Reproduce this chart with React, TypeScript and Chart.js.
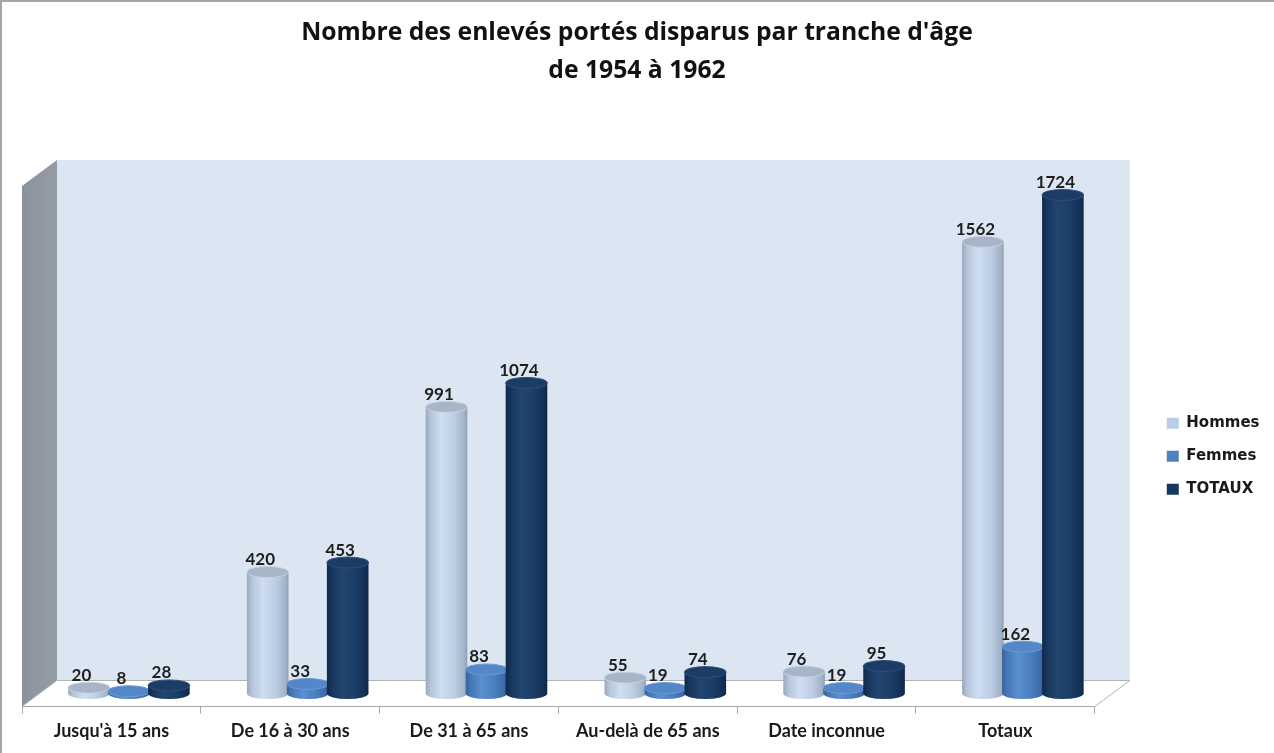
import { useEffect, useRef } from 'react';
import { Chart, registerables } from 'chart.js';

Chart.register(...registerables);

const TITLE_LINES = ["Nombre des enlevés portés disparus par tranche d'âge", 'de 1954 à 1962'];
const CATEGORIES = ["Jusqu'à 15 ans", 'De 16 à 30 ans', 'De 31 à 65 ans', 'Au-delà de 65 ans', 'Date inconnue', 'Totaux'];
const SERIES_NAMES = ['Hommes', 'Femmes', 'TOTAUX'];
const HOMMES = [20, 420, 991, 55, 76, 1562];
const FEMMES = [8, 33, 83, 19, 19, 162];
const TOTAUX = [28, 453, 1074, 74, 95, 1724];
const Y_MAX = 1800;

const LEGEND_COLORS = ['#b9cde5', '#4f81bd', '#17375e'];
const BODY_STOPS: [number, string][][] = [
  [[0, '#98a8bd'], [0.12, '#b4c5da'], [0.38, '#cfdef2'], [0.7, '#bccde3'], [0.92, '#a3b4ca'], [1, '#90a1b7']],
  [[0, '#35639c'], [0.12, '#4677b6'], [0.38, '#5a8fd0'], [0.7, '#4b7ec0'], [0.92, '#3b6ba8'], [1, '#2f5a90']],
  [[0, '#10284a'], [0.12, '#17355d'], [0.38, '#22466f'], [0.7, '#1b3c65'], [0.92, '#142f55'], [1, '#0f2646']],
];
const TOP_FILLS = ['#a7b5c7', '#5387c7', '#1c3c66'];
const TOP_RIMS = ['#c4d2e3', '#6a9ad6', '#2a4f7e'];

const DX = 35;
const DY = 26;

function drawCylinder(
  ctx: CanvasRenderingContext2D,
  cx: number,
  topY: number,
  baseY: number,
  w: number,
  ry: number,
  stops: [number, string][],
  topFill: string,
  rim: string
) {
  const l = cx - w / 2;
  const r = cx + w / 2;
  const g = ctx.createLinearGradient(l, 0, r, 0);
  stops.forEach(([o, c]) => g.addColorStop(o, c));
  ctx.beginPath();
  ctx.moveTo(l, topY);
  ctx.lineTo(l, baseY);
  ctx.ellipse(cx, baseY, w / 2, ry, 0, Math.PI, 0, true);
  ctx.lineTo(r, topY);
  ctx.closePath();
  ctx.fillStyle = g;
  ctx.fill();
  ctx.beginPath();
  ctx.ellipse(cx, topY, w / 2, ry, 0, 0, Math.PI * 2);
  ctx.fillStyle = topFill;
  ctx.fill();
  ctx.lineWidth = 1;
  ctx.strokeStyle = rim;
  ctx.stroke();
}

const scenePlugin = {
  id: 'scene3d',
  beforeDraw(chart: any) {
    const { ctx, chartArea, width, height } = chart;
    const { left, right, top, bottom } = chartArea;
    ctx.save();
    ctx.fillStyle = '#ffffff';
    ctx.fillRect(0, 0, width, height);
    ctx.fillStyle = '#a6a6a6';
    ctx.fillRect(0, 0, width, 2);
    ctx.fillRect(0, 0, 2, height);
    // back wall
    ctx.fillStyle = '#dce6f2';
    ctx.fillRect(left + DX, top - DY, right - left, bottom - top);
    // side wall
    const sg = ctx.createLinearGradient(left, 0, left + DX, 0);
    sg.addColorStop(0, '#8a929b');
    sg.addColorStop(1, '#949ca5');
    ctx.beginPath();
    ctx.moveTo(left, top);
    ctx.lineTo(left + DX, top - DY);
    ctx.lineTo(left + DX, bottom - DY);
    ctx.lineTo(left, bottom);
    ctx.closePath();
    ctx.fillStyle = sg;
    ctx.fill();
    // floor
    ctx.beginPath();
    ctx.moveTo(left + DX, bottom - DY);
    ctx.lineTo(right + DX, bottom - DY);
    ctx.lineTo(right, bottom);
    ctx.lineTo(left, bottom);
    ctx.closePath();
    ctx.fillStyle = '#ffffff';
    ctx.fill();
    ctx.lineWidth = 1;
    ctx.strokeStyle = '#b3b3b3';
    ctx.stroke();
    ctx.restore();
  },
  beforeDatasetDraw() {
    return false;
  },
  afterDatasetsDraw(chart: any) {
    const { ctx } = chart;
    ctx.save();
    chart.data.datasets.forEach((ds: any, di: number) => {
      const meta = chart.getDatasetMeta(di);
      meta.data.forEach((el: any) => {
        const { x, y, base, width } = el.getProps(['x', 'y', 'base', 'width'], true);
        const cx = x + DX / 2;
        const topY = y - DY / 2;
        const baseY = base - DY / 2;
        drawCylinder(ctx, cx, topY, baseY, width * 1.04, 5.5, BODY_STOPS[di], TOP_FILLS[di], TOP_RIMS[di]);
      });
    });
    ctx.font = 'bold 17px Lato';
    ctx.fillStyle = '#1e1e1e';
    ctx.textAlign = 'center';
    ctx.textBaseline = 'alphabetic';
    chart.data.datasets.forEach((ds: any, di: number) => {
      const meta = chart.getDatasetMeta(di);
      meta.data.forEach((el: any, i: number) => {
        const { x, y } = el.getProps(['x', 'y'], true);
        ctx.fillText(String(ds.data[i]), x + DX / 2 - 7.5, y - DY / 2 - 7);
      });
    });
    ctx.restore();
  },
};

export default function App() {
  const ref = useRef<HTMLCanvasElement | null>(null);
  useEffect(() => {
    const canvas = ref.current;
    if (!canvas) return;
    const seriesValues = [HOMMES, FEMMES, TOTAUX];
    const chart = new Chart(canvas, {
      type: 'bar',
      data: {
        labels: CATEGORIES,
        datasets: SERIES_NAMES.map((name, i) => ({
          label: name,
          data: seriesValues[i],
          backgroundColor: LEGEND_COLORS[i],
          borderWidth: 0,
          categoryPercentage: 0.671,
          barPercentage: 1,
          yAxisID: 'y',
        })),
      },
      options: {
        responsive: false,
        animation: false,
        events: [],
        layout: { padding: { left: 4.5, right: 4.5, top: 0, bottom: 3.9 } },
        scales: {
          x: {
            type: 'category',
            offset: true,
            grid: {
              display: true,
              drawOnChartArea: false,
              drawTicks: true,
              tickLength: 7,
              color: '#a6a6a6',
              offset: true,
            },
            border: { display: true, color: '#a6a6a6' },
            ticks: {
              font: { family: 'Lato', size: 18, weight: 'bold' },
              color: '#1a1a1a',
              padding: 7,
              maxRotation: 0,
              autoSkip: false,
            },
          },
          y: {
            type: 'linear',
            position: 'right',
            min: 0,
            max: Y_MAX,
            display: true,
            grid: { display: false },
            border: { display: false },
            ticks: { display: false },
            afterFit: (s: any) => {
              s.width = 54;
            },
          },
          yLeft: {
            type: 'linear',
            position: 'left',
            display: true,
            grid: { display: false },
            border: { display: false },
            ticks: { display: false },
            afterFit: (s: any) => {
              s.width = 17.5;
            },
          },
        },
        plugins: {
          title: {
            display: true,
            text: TITLE_LINES,
            color: '#111111',
            font: { family: 'Open Sans', size: 24.7, weight: 'bold', lineHeight: 38 / 24.7 },
            padding: { top: 14, bottom: 96 },
          },
          legend: {
            display: true,
            position: 'right',
            fullSize: false,
            align: 'center',
            title: { display: true, text: '', font: { size: 10 }, padding: { top: 8, bottom: 0 } },
            labels: {
              boxWidth: 12,
              boxHeight: 11,
              padding: 18,
              color: '#1a1a1a',
              font: { family: 'DejaVu Sans', size: 15, weight: 'bold' },
            },
          },
          tooltip: { enabled: false },
        },
      },
      plugins: [scenePlugin],
    } as any);
    return () => chart.destroy();
  }, []);
  return (
    <div style={{ position: 'fixed', left: 0, top: 0, width: 1274, height: 753 }}>
      <canvas ref={ref} width={1274} height={753} style={{ display: 'block' }} />
    </div>
  );
}
